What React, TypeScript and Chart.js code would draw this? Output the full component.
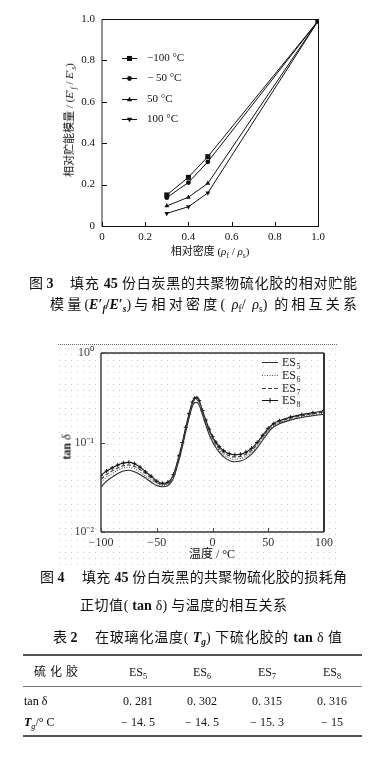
import React, { useEffect, useRef } from "react";
import { Chart, registerables } from "chart.js";

Chart.register(...registerables);

// ---------- Figure 3 data ----------
const densityRatio = [0.3, 0.4, 0.49, 1.0];
const modulusM100 = [0.15, 0.235, 0.335, 0.99];
const modulusM50 = [0.137, 0.21, 0.31, 0.99];
const modulusP50 = [0.097, 0.139, 0.206, 0.99];
const modulusP100 = [0.061, 0.093, 0.16, 0.99];
const fig3Labels = ["−100 °C", "− 50 °C", "50 °C", "100 °C"];
const fig3XTicks = [0, 0.2, 0.4, 0.6, 0.8, 1.0];
const fig3YTicks = [0, 0.2, 0.4, 0.6, 0.8, 1.0];

// ---------- Figure 4 data ----------
const temperature = [
  -100, -95, -90, -85, -80, -75, -70, -65, -60, -55, -50, -45, -40, -35, -30,
  -27, -24, -21, -18, -16, -14, -12, -9, -6, -3,
  0, 3, 6, 10, 15, 20, 25, 30, 35, 40, 45, 50, 55, 60,
  70, 80, 90, 100,
];
const tanES5 = [
  0.032, 0.037, 0.041, 0.045, 0.048, 0.049, 0.047, 0.044, 0.040, 0.036, 0.033, 0.032, 0.033, 0.040, 0.064,
  0.090, 0.132, 0.188, 0.255, 0.278, 0.281, 0.262, 0.205, 0.157, 0.123,
  0.102, 0.088, 0.078, 0.069, 0.063, 0.061, 0.062, 0.066, 0.074, 0.087, 0.106, 0.130, 0.150, 0.162,
  0.178, 0.190, 0.199, 0.207,
];
const tanES6 = [
  0.036, 0.041, 0.045, 0.049, 0.052, 0.053, 0.051, 0.047, 0.042, 0.038, 0.035, 0.033, 0.034, 0.042, 0.067,
  0.094, 0.139, 0.198, 0.270, 0.298, 0.302, 0.280, 0.215, 0.166, 0.130,
  0.107, 0.093, 0.082, 0.073, 0.067, 0.065, 0.066, 0.070, 0.078, 0.092, 0.112, 0.136, 0.155, 0.167,
  0.182, 0.194, 0.203, 0.212,
];
const tanES7 = [
  0.039, 0.044, 0.048, 0.052, 0.055, 0.056, 0.054, 0.050, 0.045, 0.040, 0.036, 0.034, 0.035, 0.043, 0.070,
  0.098, 0.145, 0.207, 0.282, 0.311, 0.315, 0.292, 0.224, 0.173, 0.136,
  0.112, 0.097, 0.086, 0.077, 0.071, 0.069, 0.070, 0.074, 0.082, 0.096, 0.116, 0.140, 0.159, 0.171,
  0.187, 0.199, 0.209, 0.219,
];
const tanES8 = [
  0.043, 0.048, 0.052, 0.056, 0.059, 0.060, 0.058, 0.053, 0.047, 0.042, 0.037, 0.035, 0.036, 0.044, 0.071,
  0.100, 0.148, 0.210, 0.284, 0.313, 0.316, 0.294, 0.228, 0.178, 0.141,
  0.117, 0.101, 0.090, 0.081, 0.075, 0.073, 0.074, 0.078, 0.086, 0.100, 0.120, 0.144, 0.163, 0.175,
  0.192, 0.205, 0.215, 0.226,
];
const esNames = ["ES5", "ES6", "ES7", "ES8"];
const tempTicks = [-100, -50, 0, 50, 100];
const tanTicks = [0.01, 0.1, 1];
const tanTickLabels = ["10⁻²", "10⁻¹", "10⁰"];

// ---------- Table 2 data ----------
const tableSub = ["5", "6", "7", "8"];
const tableTan = ["0. 281", "0. 302", "0. 315", "0. 316"];
const tableTg = ["− 14. 5", "− 14. 5", "− 15. 3", "− 15"];

// ---------- styling constants ----------
const SERIF = '"Liberation Serif", "Times New Roman", serif';
const MIXED = '"Liberation Serif", "Noto Sans CJK SC", serif';
const colCenters = [138, 202, 267, 332];

function line(ctx: CanvasRenderingContext2D, x1: number, y1: number, x2: number, y2: number) {
  ctx.beginPath();
  ctx.moveTo(x1, y1);
  ctx.lineTo(x2, y2);
  ctx.stroke();
}

function marker(ctx: CanvasRenderingContext2D, style: string, x: number, y: number, r: number, rot: number) {
  ctx.beginPath();
  if (style === "rect") {
    const s = r * Math.SQRT1_2;
    ctx.rect(x - s, y - s, 2 * s, 2 * s);
  } else if (style === "circle") {
    ctx.arc(x, y, r, 0, Math.PI * 2);
  } else if (style === "triangle") {
    const dir = rot === 180 ? -1 : 1;
    ctx.moveTo(x, y - dir * r);
    ctx.lineTo(x - r * 0.95, y + dir * r * 0.6);
    ctx.lineTo(x + r * 0.95, y + dir * r * 0.6);
    ctx.closePath();
  }
  ctx.fill();
}

const fig3Deco = {
  id: "fig3Deco",
  afterDraw(chart: any) {
    const { ctx, chartArea: a, scales } = chart;
    const x = scales.x;
    const y = scales.y;
    ctx.save();
    ctx.strokeStyle = "#777";
    ctx.lineWidth = 1.6;
    line(ctx, a.left, a.top, a.left, a.bottom + 0.5);
    ctx.strokeStyle = "#111";
    ctx.lineWidth = 1;
    line(ctx, a.left, a.top + 0.5, a.right, a.top + 0.5);
    line(ctx, a.right + 0.5, a.top, a.right + 0.5, a.bottom);
    line(ctx, a.left, a.bottom + 0.5, a.right + 1, a.bottom + 0.5);
    x.ticks.forEach((t: any) => {
      const px = Math.round(x.getPixelForValue(t.value)) + 0.5;
      line(ctx, px, a.bottom, px, a.bottom - 4);
    });
    y.ticks.forEach((t: any) => {
      const py = Math.round(y.getPixelForValue(t.value)) + 0.5;
      line(ctx, a.left, py, a.left + 5, py);
    });
    ctx.font = `11px ${SERIF}`;
    ctx.fillStyle = "#111";
    ctx.textBaseline = "middle";
    chart.data.datasets.forEach((ds: any, i: number) => {
      const ly = Math.round(a.top + 39 + i * 20.4) + 0.5;
      const lx = a.left + 20;
      line(ctx, lx, ly, lx + 15, ly);
      marker(ctx, ds.pointStyle, lx + 7.5, ly, ds.pointRadius, ds.pointRotation || 0);
      ctx.fillText(ds.label, lx + 25, ly);
    });
    ctx.restore();
  },
};

const fig4Deco = {
  id: "fig4Deco",
  beforeDraw(chart: any) {
    const { ctx } = chart;
    ctx.save();
    ctx.fillStyle = "#cbd4cb";
    for (let px = 59; px <= 338; px += 6) {
      for (let py = 13; py <= 231; py += 6) {
        ctx.fillRect(px, py, 1, 1);
      }
    }
    ctx.strokeStyle = "#666";
    ctx.lineWidth = 1;
    ctx.setLineDash([1, 1]);
    line(ctx, 58, 9.5, 338, 9.5);
    ctx.restore();
  },
  afterDraw(chart: any) {
    const { ctx, chartArea: a, scales } = chart;
    const x = scales.x;
    const y = scales.y;
    ctx.save();
    ctx.strokeStyle = "#333";
    ctx.lineWidth = 1.4;
    line(ctx, a.left, a.top, a.left, a.bottom);
    line(ctx, a.left, a.top, a.right, a.top);
    line(ctx, a.left, a.bottom, a.right, a.bottom);
    ctx.lineWidth = 2;
    line(ctx, a.right, a.top, a.right, a.bottom);
    ctx.lineWidth = 1;
    ctx.strokeStyle = "#444";
    x.ticks.forEach((t: any) => {
      const px = Math.round(x.getPixelForValue(t.value)) + 0.5;
      line(ctx, px, a.bottom, px, a.bottom - 4);
    });
    y.ticks.forEach((t: any) => {
      const py = Math.round(y.getPixelForValue(t.value)) + 0.5;
      line(ctx, a.left, py, a.left + 4, py);
    });
    // legend
    chart.data.datasets.forEach((ds: any, i: number) => {
      const ly = Math.round(a.top + 9 + i * 12.8) + 0.5;
      const lx = a.right - 62;
      ctx.strokeStyle = ds.borderColor;
      ctx.lineWidth = 1;
      ctx.setLineDash(ds.borderDash || []);
      line(ctx, lx, ly, lx + 16, ly);
      ctx.setLineDash([]);
      if (ds.pointRadius > 0) {
        line(ctx, lx + 8, ly - 2.5, lx + 8, ly + 2.5);
      }
      ctx.fillStyle = "#222";
      ctx.textBaseline = "middle";
      ctx.font = `12px ${SERIF}`;
      const main = ds.label.slice(0, 2);
      const sub = ds.label.slice(2);
      ctx.fillText(main, lx + 20, ly);
      const w = ctx.measureText(main).width;
      ctx.font = `8px ${SERIF}`;
      ctx.fillText(sub, lx + 20 + w + 0.5, ly + 4);
    });
    ctx.restore();
  },
};

const Sub = ({ children }: { children: React.ReactNode }) => (
  <span style={{ fontSize: "0.68em", position: "relative", top: "0.35em", lineHeight: 0 }}>{children}</span>
);

function Caption(props: { left: number; center: number; width?: number; size?: number; children: React.ReactNode }) {
  const size = props.size || 14;
  const lh = size + 4;
  const style: React.CSSProperties = {
    position: "absolute",
    left: props.left,
    top: props.center - lh / 2,
    fontSize: size,
    lineHeight: `${lh}px`,
    fontFamily: MIXED,
    color: "#111",
  };
  if (props.width) {
    style.width = props.width;
    style.textAlign = "justify";
    (style as any).textAlignLast = "justify";
  } else {
    style.whiteSpace = "nowrap";
  }
  return <div style={style}>{props.children}</div>;
}

function Centered(props: { x: number; y: number; size: number; children: React.ReactNode; rotate?: boolean; spacing?: number }) {
  return (
    <div
      style={{
        position: "absolute",
        left: props.x,
        top: props.y,
        transform: `translate(-50%, -50%)${props.rotate ? " rotate(-90deg)" : ""}`,
        whiteSpace: "nowrap",
        fontSize: props.size,
        lineHeight: `${props.size + 3}px`,
        fontFamily: MIXED,
        color: "#111",
        letterSpacing: props.spacing || 0,
      }}
    >
      {props.children}
    </div>
  );
}

export default function App() {
  const ref1 = useRef<HTMLCanvasElement>(null);
  const ref2 = useRef<HTMLCanvasElement>(null);

  useEffect(() => {
    const tickFont = { family: SERIF, size: 11 };
    const fmt = (v: number) => (v === 0 ? "0" : v.toFixed(1));
    const fig3Series = [
      { label: fig3Labels[0], values: modulusM100, style: "rect", r: 3.6, rot: 0 },
      { label: fig3Labels[1], values: modulusM50, style: "circle", r: 2.4, rot: 0 },
      { label: fig3Labels[2], values: modulusP50, style: "triangle", r: 2.8, rot: 0 },
      { label: fig3Labels[3], values: modulusP100, style: "triangle", r: 2.8, rot: 180 },
    ];
    const chart1 = new Chart(ref1.current as HTMLCanvasElement, {
      type: "scatter",
      data: {
        datasets: fig3Series.map((s) => ({
          label: s.label,
          data: densityRatio.map((d, i) => ({ x: d, y: s.values[i] })),
          showLine: true,
          borderColor: "#111",
          backgroundColor: "#111",
          borderWidth: 1,
          pointStyle: s.style,
          pointRadius: s.r,
          pointRotation: s.rot,
          pointBorderWidth: 0,
        })),
      } as any,
      options: {
        animation: false,
        responsive: false,
        devicePixelRatio: 1,
        layout: { padding: { left: 0, top: 19, right: 63, bottom: 0 } },
        plugins: { legend: { display: false }, tooltip: { enabled: false } },
        scales: {
          x: {
            type: "linear",
            min: 0,
            max: 1,
            afterBuildTicks: (s: any) => {
              s.ticks = fig3XTicks.map((v) => ({ value: v }));
            },
            afterFit: (s: any) => {
              s.height = 39;
            },
            grid: { display: false, drawTicks: false },
            border: { display: false },
            ticks: { padding: 5, color: "#111", font: tickFont, maxRotation: 0, autoSkip: false, callback: (v: any) => fmt(Number(v)) },
          },
          y: {
            type: "linear",
            min: 0,
            max: 1,
            afterBuildTicks: (s: any) => {
              s.ticks = fig3YTicks.map((v) => ({ value: v }));
            },
            afterFit: (s: any) => {
              s.width = 102;
            },
            grid: { display: false, drawTicks: false },
            border: { display: false },
            ticks: { padding: 7, color: "#111", font: tickFont, autoSkip: false, callback: (v: any) => fmt(Number(v)) },
          },
        },
      } as any,
      plugins: [fig3Deco],
    });

    const fig4Series = [
      { values: tanES5, color: "#2a2a2a", dash: [] as number[], r: 0 },
      { values: tanES6, color: "#555", dash: [1, 1.5], r: 0 },
      { values: tanES7, color: "#3a3a3a", dash: [4, 2], r: 0 },
      { values: tanES8, color: "#111", dash: [] as number[], r: 2 },
    ];
    const chart2 = new Chart(ref2.current as HTMLCanvasElement, {
      type: "scatter",
      data: {
        datasets: fig4Series.map((s, k) => ({
          label: esNames[k],
          data: temperature.map((t, i) => ({ x: t, y: s.values[i] })),
          showLine: true,
          borderColor: s.color,
          backgroundColor: s.color,
          borderWidth: 1.1,
          borderDash: s.dash,
          pointStyle: "cross",
          pointRadius: s.r,
          pointBorderWidth: 1,
          cubicInterpolationMode: "monotone",
        })),
      } as any,
      options: {
        animation: false,
        responsive: false,
        devicePixelRatio: 1,
        layout: { padding: { left: 0, top: 18, right: 57, bottom: 0 } },
        plugins: { legend: { display: false }, tooltip: { enabled: false } },
        scales: {
          x: {
            type: "linear",
            min: -100,
            max: 100,
            afterBuildTicks: (s: any) => {
              s.ticks = tempTicks.map((v) => ({ value: v }));
            },
            afterFit: (s: any) => {
              s.height = 38;
            },
            grid: { display: false, drawTicks: false },
            border: { display: false },
            ticks: {
              padding: 4,
              color: "#333",
              font: { family: SERIF, size: 12 },
              maxRotation: 0,
              autoSkip: false,
              callback: (v: any) => (Number(v) < 0 ? "−" + Math.abs(Number(v)) : String(v)),
            },
          },
          y: {
            type: "logarithmic",
            min: 0.01,
            max: 1,
            afterBuildTicks: (s: any) => {
              s.ticks = tanTicks.map((v) => ({ value: v }));
            },
            afterFit: (s: any) => {
              s.width = 101;
            },
            grid: { display: false, drawTicks: false },
            border: { display: false },
            ticks: {
              padding: 7,
              color: "#444",
              font: { family: SERIF, size: 12 },
              autoSkip: false,
              callback: (v: any) => {
                const idx = tanTicks.findIndex((t) => Math.abs(t - Number(v)) < 1e-9);
                return idx >= 0 ? tanTickLabels[idx] : "";
              },
            },
          },
        },
      } as any,
      plugins: [fig4Deco],
    });

    return () => {
      chart1.destroy();
      chart2.destroy();
    };
  }, []);

  const ruleStyle = (top: number, h: number, c: string): React.CSSProperties => ({
    position: "absolute",
    left: 23,
    width: 339,
    top,
    height: h,
    background: c,
  });

  return (
    <div
      style={{
        position: "absolute",
        left: 0,
        top: 0,
        width: 381,
        height: 758,
        background: "#fff",
        overflow: "hidden",
        fontFamily: MIXED,
      }}
    >
      <canvas ref={ref1} width={381} height={265} style={{ position: "absolute", left: 0, top: 0, width: 381, height: 265 }} />
      <Centered x={69} y={120} size={11} rotate>
        相对贮能模量 / (<i>E</i>′<Sub><i>f</i></Sub> / <i>E</i>′<Sub><i>s</i></Sub>)
      </Centered>
      <Centered x={210} y={251} size={11}>
        相对密度 (<i>ρ</i><Sub>f</Sub> / <i>ρ</i><Sub>s</Sub>)
      </Centered>

      <Caption left={29} center={284}>
        图 <b>3</b>
      </Caption>
      <Caption left={70} center={284} width={287}>
        填充 <b>45</b> 份白炭黑的共聚物硫化胶的相对贮能
      </Caption>
      <Caption left={50} center={305} width={307}>
        模量(<b><i>E</i>′<Sub><i>f</i></Sub>/<i>E</i>′<Sub><i>s</i></Sub></b>)与相对密度( <i>ρ</i><Sub>f</Sub>/ <i>ρ</i><Sub>s</Sub>) 的相互关系
      </Caption>

      <canvas ref={ref2} width={381} height={235} style={{ position: "absolute", left: 0, top: 335, width: 381, height: 235 }} />
      <Centered x={67} y={447} size={12} rotate>
        <b>tan</b> <i>δ</i>
      </Centered>
      <Centered x={212} y={554} size={12}>
        温度 / °C
      </Centered>

      <Caption left={40} center={578}>
        图 <b>4</b>
      </Caption>
      <Caption left={82} center={578} width={265}>
        填充 <b>45</b> 份白炭黑的共聚物硫化胶的损耗角
      </Caption>
      <Caption left={80} center={606} width={207}>
        正切值( <b>tan</b> δ) 与温度的相互关系
      </Caption>

      <Caption left={53} center={638}>
        表 <b>2</b>
      </Caption>
      <Caption left={95} center={638} width={247}>
        在玻璃化温度( <b><i>T</i><Sub><i>g</i></Sub></b>) 下硫化胶的 <b>tan</b> δ 值
      </Caption>

      <div style={ruleStyle(654, 2, "#555")} />
      <Centered x={58} y={672} size={12} spacing={4}>
        硫化胶
      </Centered>
      {tableSub.map((s, i) => (
        <Centered key={"h" + i} x={colCenters[i]} y={672} size={12}>
          ES<Sub>{s}</Sub>
        </Centered>
      ))}
      <div style={ruleStyle(686, 1, "#777")} />
      <div style={{ position: "absolute", left: 24, top: 694, fontSize: 12, lineHeight: "15px", fontFamily: MIXED, whiteSpace: "nowrap" }}>
        tan δ
      </div>
      {tableTan.map((v, i) => (
        <Centered key={"t" + i} x={colCenters[i]} y={701} size={12}>
          {v}
        </Centered>
      ))}
      <div style={{ position: "absolute", left: 24, top: 715, fontSize: 12, lineHeight: "15px", fontFamily: MIXED, whiteSpace: "nowrap" }}>
        <b>
          <i>T</i>
        </b>
        <Sub>
          <i>g</i>
        </Sub>
        /° C
      </div>
      {tableTg.map((v, i) => (
        <Centered key={"g" + i} x={colCenters[i]} y={722} size={12}>
          {v}
        </Centered>
      ))}
      <div style={ruleStyle(735, 2, "#555")} />
    </div>
  );
}
